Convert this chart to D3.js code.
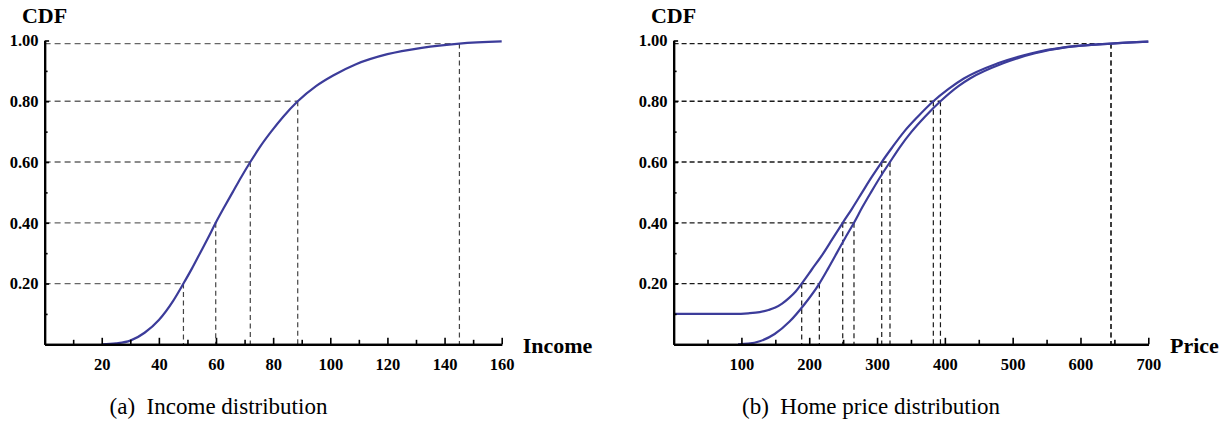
<!DOCTYPE html>
<html>
<head>
<meta charset="utf-8">
<script src="https://cdn.jsdelivr.net/npm/d3@7"></script>
<style>
  body { margin: 0; background: #fff; }
</style>
</head>
<body>
<script>
// Income CDF
const incomeX = [20, 25, 30, 35, 40, 45, 48.6, 51.6, 54.4, 57.2, 59.9, 62.8, 65.8, 68.8, 72, 75.4, 79.3, 83.6, 88.6, 95, 101, 109, 120, 132, 145.2, 160]
const incomeCdf = [0, 0.003, 0.012, 0.038, 0.08, 0.143, 0.2, 0.25, 0.3, 0.35, 0.4, 0.45, 0.5, 0.55, 0.6, 0.65, 0.7, 0.75, 0.8, 0.85, 0.885, 0.922, 0.955, 0.976, 0.99, 0.997]

// home price CDFs (upper one starts at 0.10)
const priceUpX = [0, 90, 110, 127, 140, 150, 160, 170, 180, 188.9, 204, 220, 234, 249.4, 263, 278, 292, 306.9, 322, 340, 360, 383, 405, 428, 478, 528, 578, 645, 700]
const priceUpCdf = [0.1, 0.1, 0.102, 0.106, 0.113, 0.121, 0.134, 0.152, 0.174, 0.2, 0.247, 0.297, 0.346, 0.4, 0.446, 0.5, 0.55, 0.6, 0.647, 0.7, 0.749, 0.8, 0.84, 0.875, 0.925, 0.958, 0.978, 0.99, 0.996]
const priceLoX = [95, 110, 127, 149, 171, 193, 214.9, 228, 240.5, 253, 266, 278, 291, 304.5, 319.1, 334, 351, 371, 393.5, 420, 437, 486, 533, 580, 645, 700]
const priceLoCdf = [0, 0.002, 0.01, 0.034, 0.075, 0.132, 0.2, 0.25, 0.3, 0.35, 0.4, 0.45, 0.5, 0.55, 0.6, 0.65, 0.7, 0.75, 0.8, 0.85, 0.875, 0.925, 0.958, 0.978, 0.99, 0.996]

// quantile guide lines
const levels = [0.2, 0.4, 0.6, 0.8, 0.99]
const incomeQ = [48.6, 59.9, 72, 88.6, 145.2]
const priceUpQ = [188.9, 249.4, 306.9, 383, 645]
const priceLoQ = [214.9, 266, 319.1, 393.5, 645]

const yTicks = [0.2, 0.4, 0.6, 0.8, 1.0]
const yMinor = [0.1, 0.3, 0.5, 0.7, 0.9]
const incomeTicks = [20, 40, 60, 80, 100, 120, 140, 160]
const incomeMinor = [10, 30, 50, 70, 90, 110, 130, 150]
const priceTicks = [100, 200, 300, 400, 500, 600, 700]
const priceMinor = [50, 150, 250, 350, 450, 550, 650]

const blue = "#3c3c9a"
const serif = '"Liberation Serif", "Times New Roman", serif'

const svg = d3.select("body")
  .append("svg")
  .attr("width", 1231)
  .attr("height", 424)

const y = d3.scaleLinear().domain([0, 1]).range([344.3, 40.5])

const panel = (opt) => {
  const x = d3.scaleLinear().domain(opt.domain).range(opt.range)
  const g = svg.append("g")

  // dashed guides
  opt.levels.forEach((lv, i) => {
    g.append("line")
      .attr("x1", x(0)).attr("x2", x(opt.hq[i]))
      .attr("y1", y(lv)).attr("y2", y(lv))
      .attr("stroke", opt.hColor).attr("stroke-width", 1.3)
      .attr("stroke-dasharray", opt.dash)
    opt.vq.forEach((q) => {
      g.append("line")
        .attr("x1", x(q[i])).attr("x2", x(q[i]))
        .attr("y1", y(lv)).attr("y2", y(0))
        .attr("stroke", opt.vColor).attr("stroke-width", 1.2)
        .attr("stroke-dasharray", "5,3.5")
    })
  })

  // curves
  const line = d3.line()
    .x((d) => x(d[0]))
    .y((d) => y(d[1]))
    .curve(d3.curveMonotoneX)
  opt.curves.forEach((c) => {
    g.append("path")
      .datum(d3.zip(c[0], c[1]))
      .attr("d", line)
      .attr("fill", "none")
      .attr("stroke", blue)
      .attr("stroke-width", 2.2)
  })

  // axes
  const xMinor = g.append("g")
    .attr("transform", `translate(0,${y(0)})`)
    .call(d3.axisBottom(x).tickValues(opt.minor).tickSizeInner(-4.5).tickSizeOuter(0).tickFormat(""))
  const xMajor = g.append("g")
    .attr("transform", `translate(0,${y(0)})`)
    .call(d3.axisBottom(x).tickValues(opt.ticks).tickSizeInner(-6.5).tickSizeOuter(0).tickPadding(14))
  const yMin = g.append("g")
    .attr("transform", `translate(${x(0)},0)`)
    .call(d3.axisLeft(y).tickValues(yMinor).tickSizeInner(-3).tickSizeOuter(0).tickFormat(""))
  const yMaj = g.append("g")
    .attr("transform", `translate(${x(0)},0)`)
    .call(d3.axisLeft(y).tickValues(yTicks).tickSizeInner(-4.5).tickSizeOuter(0).tickPadding(6).tickFormat(d3.format(".2f")))

  ;[xMinor, xMajor, yMin, yMaj].forEach((a) => {
    a.attr("font-family", serif)
    a.select(".domain").attr("stroke", "#000").attr("stroke-width", 2.2)
    a.selectAll(".tick line").attr("stroke", "#000").attr("stroke-width", 1.6)
    a.selectAll(".tick text")
      .attr("fill", "#000")
      .attr("font-family", serif)
      .attr("font-weight", "bold")
      .attr("font-size", 16.5)
  })

  g.append("text")
    .attr("x", x(0)).attr("y", 23)
    .attr("text-anchor", "middle")
    .attr("font-family", serif)
    .attr("font-weight", "bold").attr("font-size", 22)
    .text("CDF")
  g.append("text")
    .attr("x", opt.xLabelAt).attr("y", 353)
    .attr("font-family", serif)
    .attr("font-weight", "bold").attr("font-size", 22)
    .text(opt.xLabel)
  g.append("text")
    .attr("x", opt.capX).attr("y", 414)
    .attr("text-anchor", "middle")
    .attr("font-family", serif)
    .attr("font-size", 23)
    .style("white-space", "pre")
    .text(opt.caption)
}

panel({
  domain: [0, 160], range: [44.6, 501.7],
  ticks: incomeTicks, minor: incomeMinor,
  levels: levels, hq: incomeQ, vq: [incomeQ],
  curves: [[incomeX, incomeCdf]],
  hColor: "#666", vColor: "#444", dash: "6,4",
  xLabel: "Income", xLabelAt: 522.7,
  caption: "(a)  Income distribution", capX: 218.5,
})

panel({
  domain: [0, 700], range: [673.6, 1148.3],
  ticks: priceTicks, minor: priceMinor,
  levels: levels, hq: priceLoQ, vq: [priceUpQ, priceLoQ],
  curves: [[priceUpX, priceUpCdf], [priceLoX, priceLoCdf]],
  hColor: "#1a1a1a", vColor: "#1a1a1a", dash: "5,3",
  xLabel: "Price", xLabelAt: 1170,
  caption: "(b)  Home price distribution", capX: 871,
})
</script>
</body>
</html>
